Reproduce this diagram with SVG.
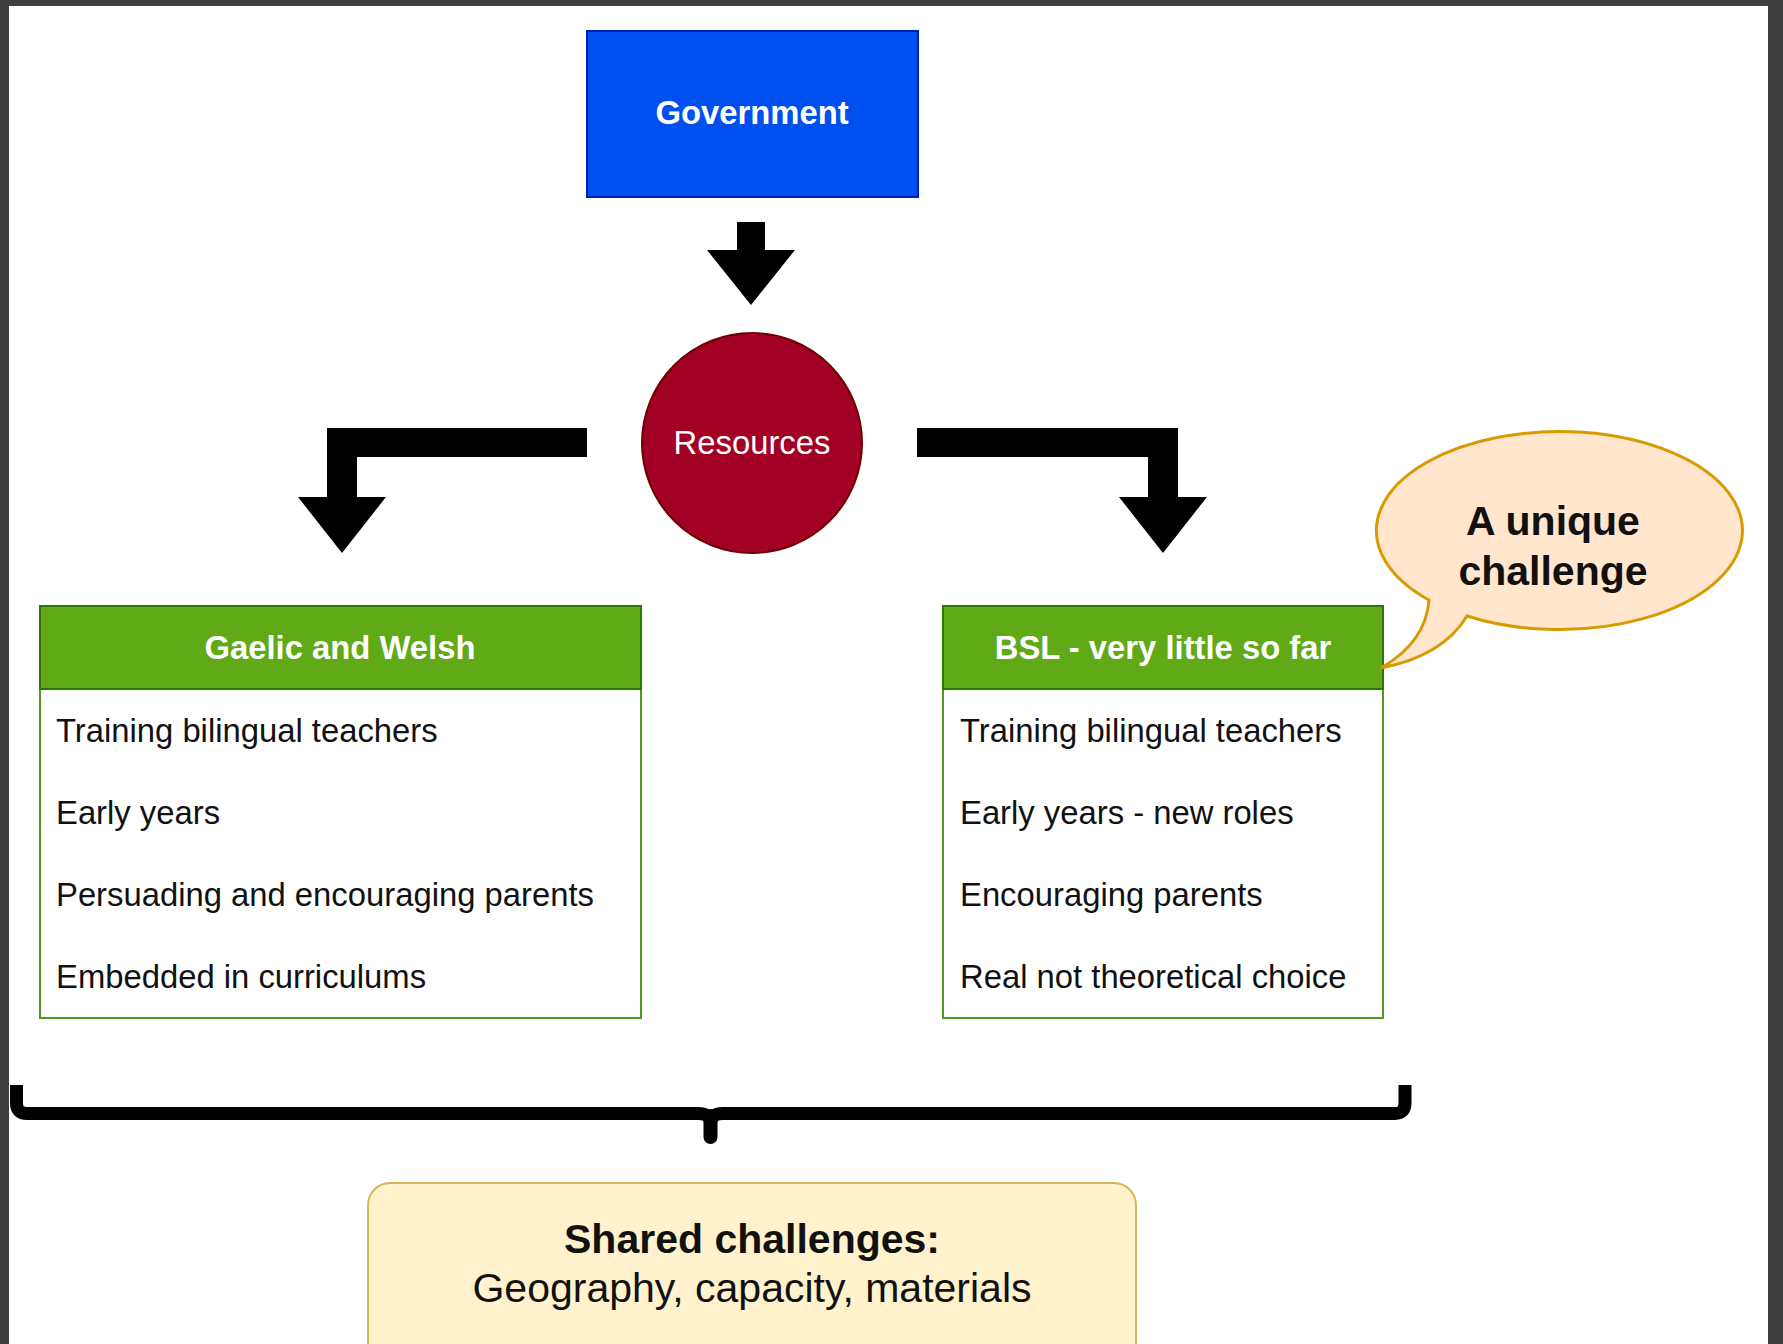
<svg xmlns="http://www.w3.org/2000/svg" width="1783" height="1344" viewBox="0 0 1783 1344">
<style>
text{font-family:"Liberation Sans",Arial,Helvetica,sans-serif}
.w{fill:#fff}
.b{font-weight:bold}
.hd{font-size:32.8px;font-weight:bold;fill:#fff;text-anchor:middle}
.row{font-size:32.8px;fill:#111}
.big{font-size:41px;fill:#111;text-anchor:middle}
.arr{fill:#000}
</style>
<rect x="0" y="0" width="1783" height="1344" fill="#3f3f3f"/>
<rect x="9" y="6" width="1759" height="1338" fill="#fff"/>

<g id="connectors">
  <polygon class="arr" points="737,222 765,222 765,250 795,250 751,305 707,250 737,250"/>
  <polygon class="arr" points="587,428 327,428 327,497 298,497 342,553 386,497 357,497 357,457 587,457"/>
  <polygon class="arr" points="917,428 1178,428 1178,497 1207,497 1163,553 1119,497 1148,497 1148,457 917,457"/>
</g>

<g id="government">
  <rect x="587" y="31" width="331" height="166" fill="#0050EF" stroke="#001DBC" stroke-width="2"/>
  <text x="752" y="124" class="hd" font-size="33.5">Government</text>
</g>

<g id="resources">
  <circle cx="752" cy="443" r="110" fill="#A20025" stroke="#6F0000" stroke-width="2"/>
  <text x="752" y="454" text-anchor="middle" font-size="32.8" class="w">Resources</text>
</g>

<g id="gaelic-welsh">
  <rect x="40" y="606" width="601" height="412" fill="#fff" stroke="#4E9A22" stroke-width="2"/>
  <rect x="40" y="606" width="601" height="83" fill="#60A917" stroke="#2D7600" stroke-width="2"/>
  <text x="340" y="659" class="hd">Gaelic and Welsh</text>
  <text x="56" y="742" class="row">Training bilingual teachers</text>
  <text x="56" y="824" class="row">Early years</text>
  <text x="56" y="906" class="row">Persuading and encouraging parents</text>
  <text x="56" y="988" class="row">Embedded in curriculums</text>
</g>

<g id="bsl">
  <rect x="943" y="606" width="440" height="412" fill="#fff" stroke="#4E9A22" stroke-width="2"/>
  <rect x="943" y="606" width="440" height="83" fill="#60A917" stroke="#2D7600" stroke-width="2"/>
  <text x="1163" y="659" class="hd">BSL - very little so far</text>
  <text x="960" y="742" class="row">Training bilingual teachers</text>
  <text x="960" y="824" class="row">Early years - new roles</text>
  <text x="960" y="906" class="row">Encouraging parents</text>
  <text x="960" y="988" class="row">Real not theoretical choice</text>
</g>

<g id="unique-challenge">
  <path d="M1429 600 Q1426 642 1381 668 Q1443 656 1467 616 A183 99 0 1 0 1429 600 Z" fill="#FFE6CC" stroke="#D79B00" stroke-width="3"/>
  <text x="1553" y="535" class="big b">A unique</text>
  <text x="1553" y="585" class="big b">challenge</text>
</g>

<g id="brace">
  <path d="M16.5 1085 V1103 Q16.5 1113.5 27 1113.5 H698 Q710.5 1113.5 710.5 1124 Q710.5 1113.5 723 1113.5 H1395 Q1405 1113.5 1405 1103 V1085" fill="none" stroke="#000" stroke-width="13"/>
  <line x1="710.5" y1="1116" x2="710.5" y2="1137" stroke="#000" stroke-width="14" stroke-linecap="round"/>
</g>

<g id="shared-challenges">
  <rect x="368" y="1183" width="768" height="190" rx="22" ry="22" fill="#FFF2CC" stroke="#D6B656" stroke-width="2"/>
  <text x="752" y="1253" class="big b">Shared challenges:</text>
  <text x="752" y="1302" class="big">Geography, capacity, materials</text>
</g>
</svg>
